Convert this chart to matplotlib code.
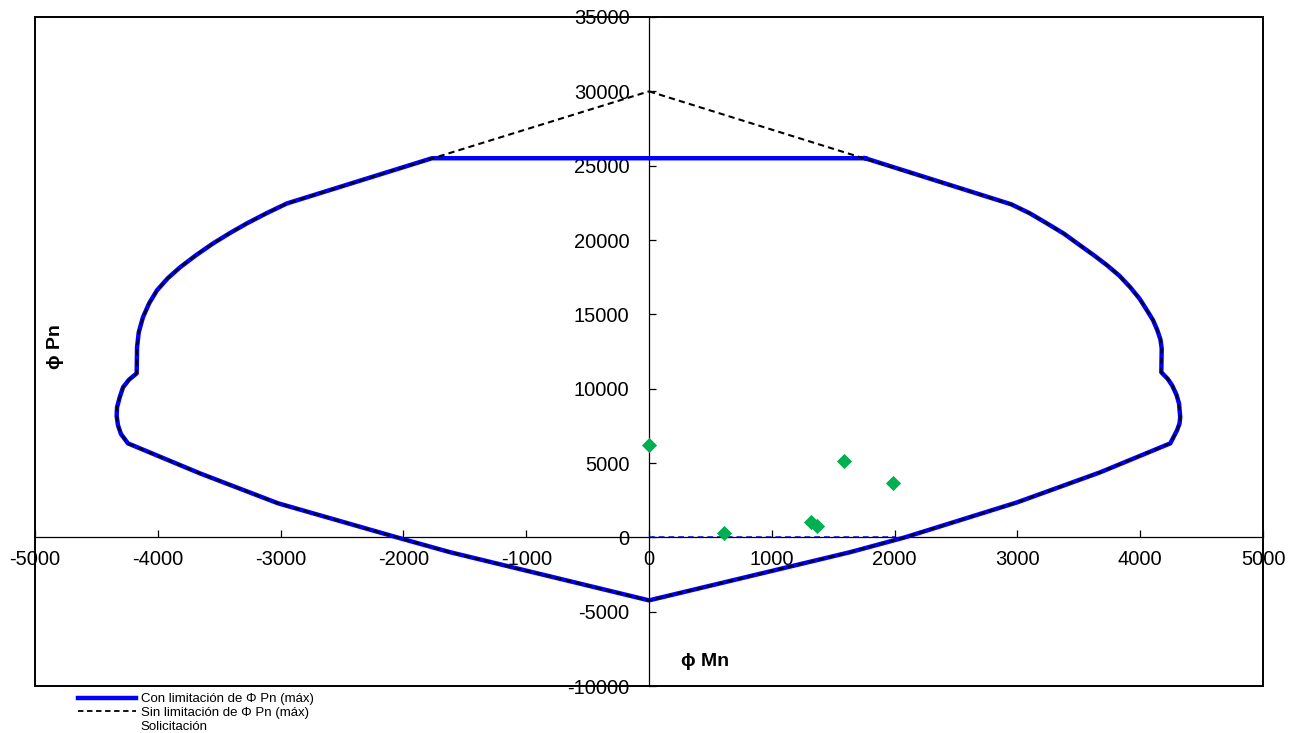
import numpy as np
import matplotlib.pyplot as plt
from matplotlib.lines import Line2D
from matplotlib.patches import Rectangle

plt.rcParams['font.family'] = ['Liberation Sans', 'DejaVu Sans']
plt.rcParams['axes.unicode_minus'] = False

# interaction diagram (phi Mn, phi Pn)
mn_right = [1760, 2950, 3100, 3240, 3380, 3510, 3630, 3730, 3830, 3920, 3995, 4055,
            4105, 4140, 4165, 4175, 4172,
            4225, 4260, 4295, 4316, 4326, 4320, 4300, 4245, 3673, 2997, 2085, 1637, 0]
pn_right = [25500, 22400, 21800, 21120, 20420, 19640, 18930, 18300, 17600, 16810, 16050, 15270,
            14600, 13920, 13300, 12700, 11100,
            10650, 10220, 9600, 9010, 8070, 7650, 7200, 6320, 4370, 2350, 0, -1000, -4240]
mn_left = [-1620, -2028, -3021, -3656, -4243, -4300, -4324, -4335, -4332, -4310, -4283, -4235,
           -4172, -4169, -4155, -4121, -4070, -4007, -3920, -3819, -3690, -3550, -3410,
           -3274, -3110, -2948, -1767]
pn_left = [-1000, -60, 2290, 4300, 6320, 6950, 7530, 8150, 8740, 9430, 10090, 10600,
           11030, 12780, 13800, 14800, 15750, 16610, 17420, 18160, 18970, 19770, 20480,
           21120, 21820, 22460, 25500]
pn_cap = 30000

# loads (Solicitación)
sol_mn = [0, 611, 1319, 1368, 1588, 1987]
sol_pn = [6190, 269, 1009, 740, 5110, 3631]

mn_con = mn_right + mn_left + mn_right[:1]
pn_con = pn_right + pn_left + pn_right[:1]
mn_sin = [0] + mn_right[1:] + mn_left[:-1] + [0]
pn_sin = [pn_cap] + pn_right[1:] + pn_left[:-1] + [pn_cap]

fig = plt.figure(figsize=(12.99, 7.33), dpi=100)
ax = fig.add_axes([35/1299, 1-686/733, 1228/1299, 669/733])

ax.plot(mn_con, pn_con, color='#0000FF', lw=3.2, solid_joinstyle='round', zorder=3)
ax.plot(mn_sin, pn_sin, color='black', lw=1.5, ls=(0, (3, 2)), zorder=4)
ax.plot([0, 2000], [0, 0], color='#3A3AFF', lw=1.4, ls=(0, (3, 2)), zorder=2)
ax.scatter(sol_mn, sol_pn, marker='D', s=60, color='#00B050', zorder=5, lw=0)

ax.set_xlim(-5000, 5000)
ax.set_ylim(-10000, 35000)
ax.set_xticks(np.arange(-5000, 5001, 1000))
ax.set_yticks(np.arange(-10000, 35001, 5000))

for s in ['top', 'right']:
    ax.spines[s].set_visible(False)
ax.spines['left'].set_position(('data', 0))
ax.spines['bottom'].set_position(('data', 0))
ax.spines['left'].set_linewidth(0.9)
ax.spines['bottom'].set_linewidth(0.9)
ax.tick_params(axis='both', direction='in', length=5, width=0.9, labelsize=14.5)
ax.tick_params(axis='y', pad=14)
ax.tick_params(axis='x', pad=9)

ax.add_patch(Rectangle((0, 0), 1, 1, transform=ax.transAxes, fill=False,
                       ec='black', lw=1.4, clip_on=False, zorder=6))

fig.text(56/1299, 1-347/733, 'ϕ Pn', rotation=90, fontsize=14, fontweight='bold',
         ha='center', va='center')
fig.text(705/1299, 1-662/733, 'ϕ Mn', fontsize=14, fontweight='bold',
         ha='center', va='center')

handles = [Line2D([], [], color='#0000FF', lw=3.2),
           Line2D([], [], color='black', lw=1.3, ls=(0, (3, 2))),
           Line2D([], [], ls='none')]
labels = ['Con limitación de Φ Pn (máx)', 'Sin limitación de Φ Pn (máx)', 'Solicitación']
fig.legend(handles, labels, loc='upper left', bbox_to_anchor=(78/1299, 1-693/733),
           frameon=False, fontsize=9.5, handlelength=4.4, handletextpad=0.35,
           labelspacing=0.12, borderpad=0, borderaxespad=0)

fig.savefig('out.png', dpi=100)
